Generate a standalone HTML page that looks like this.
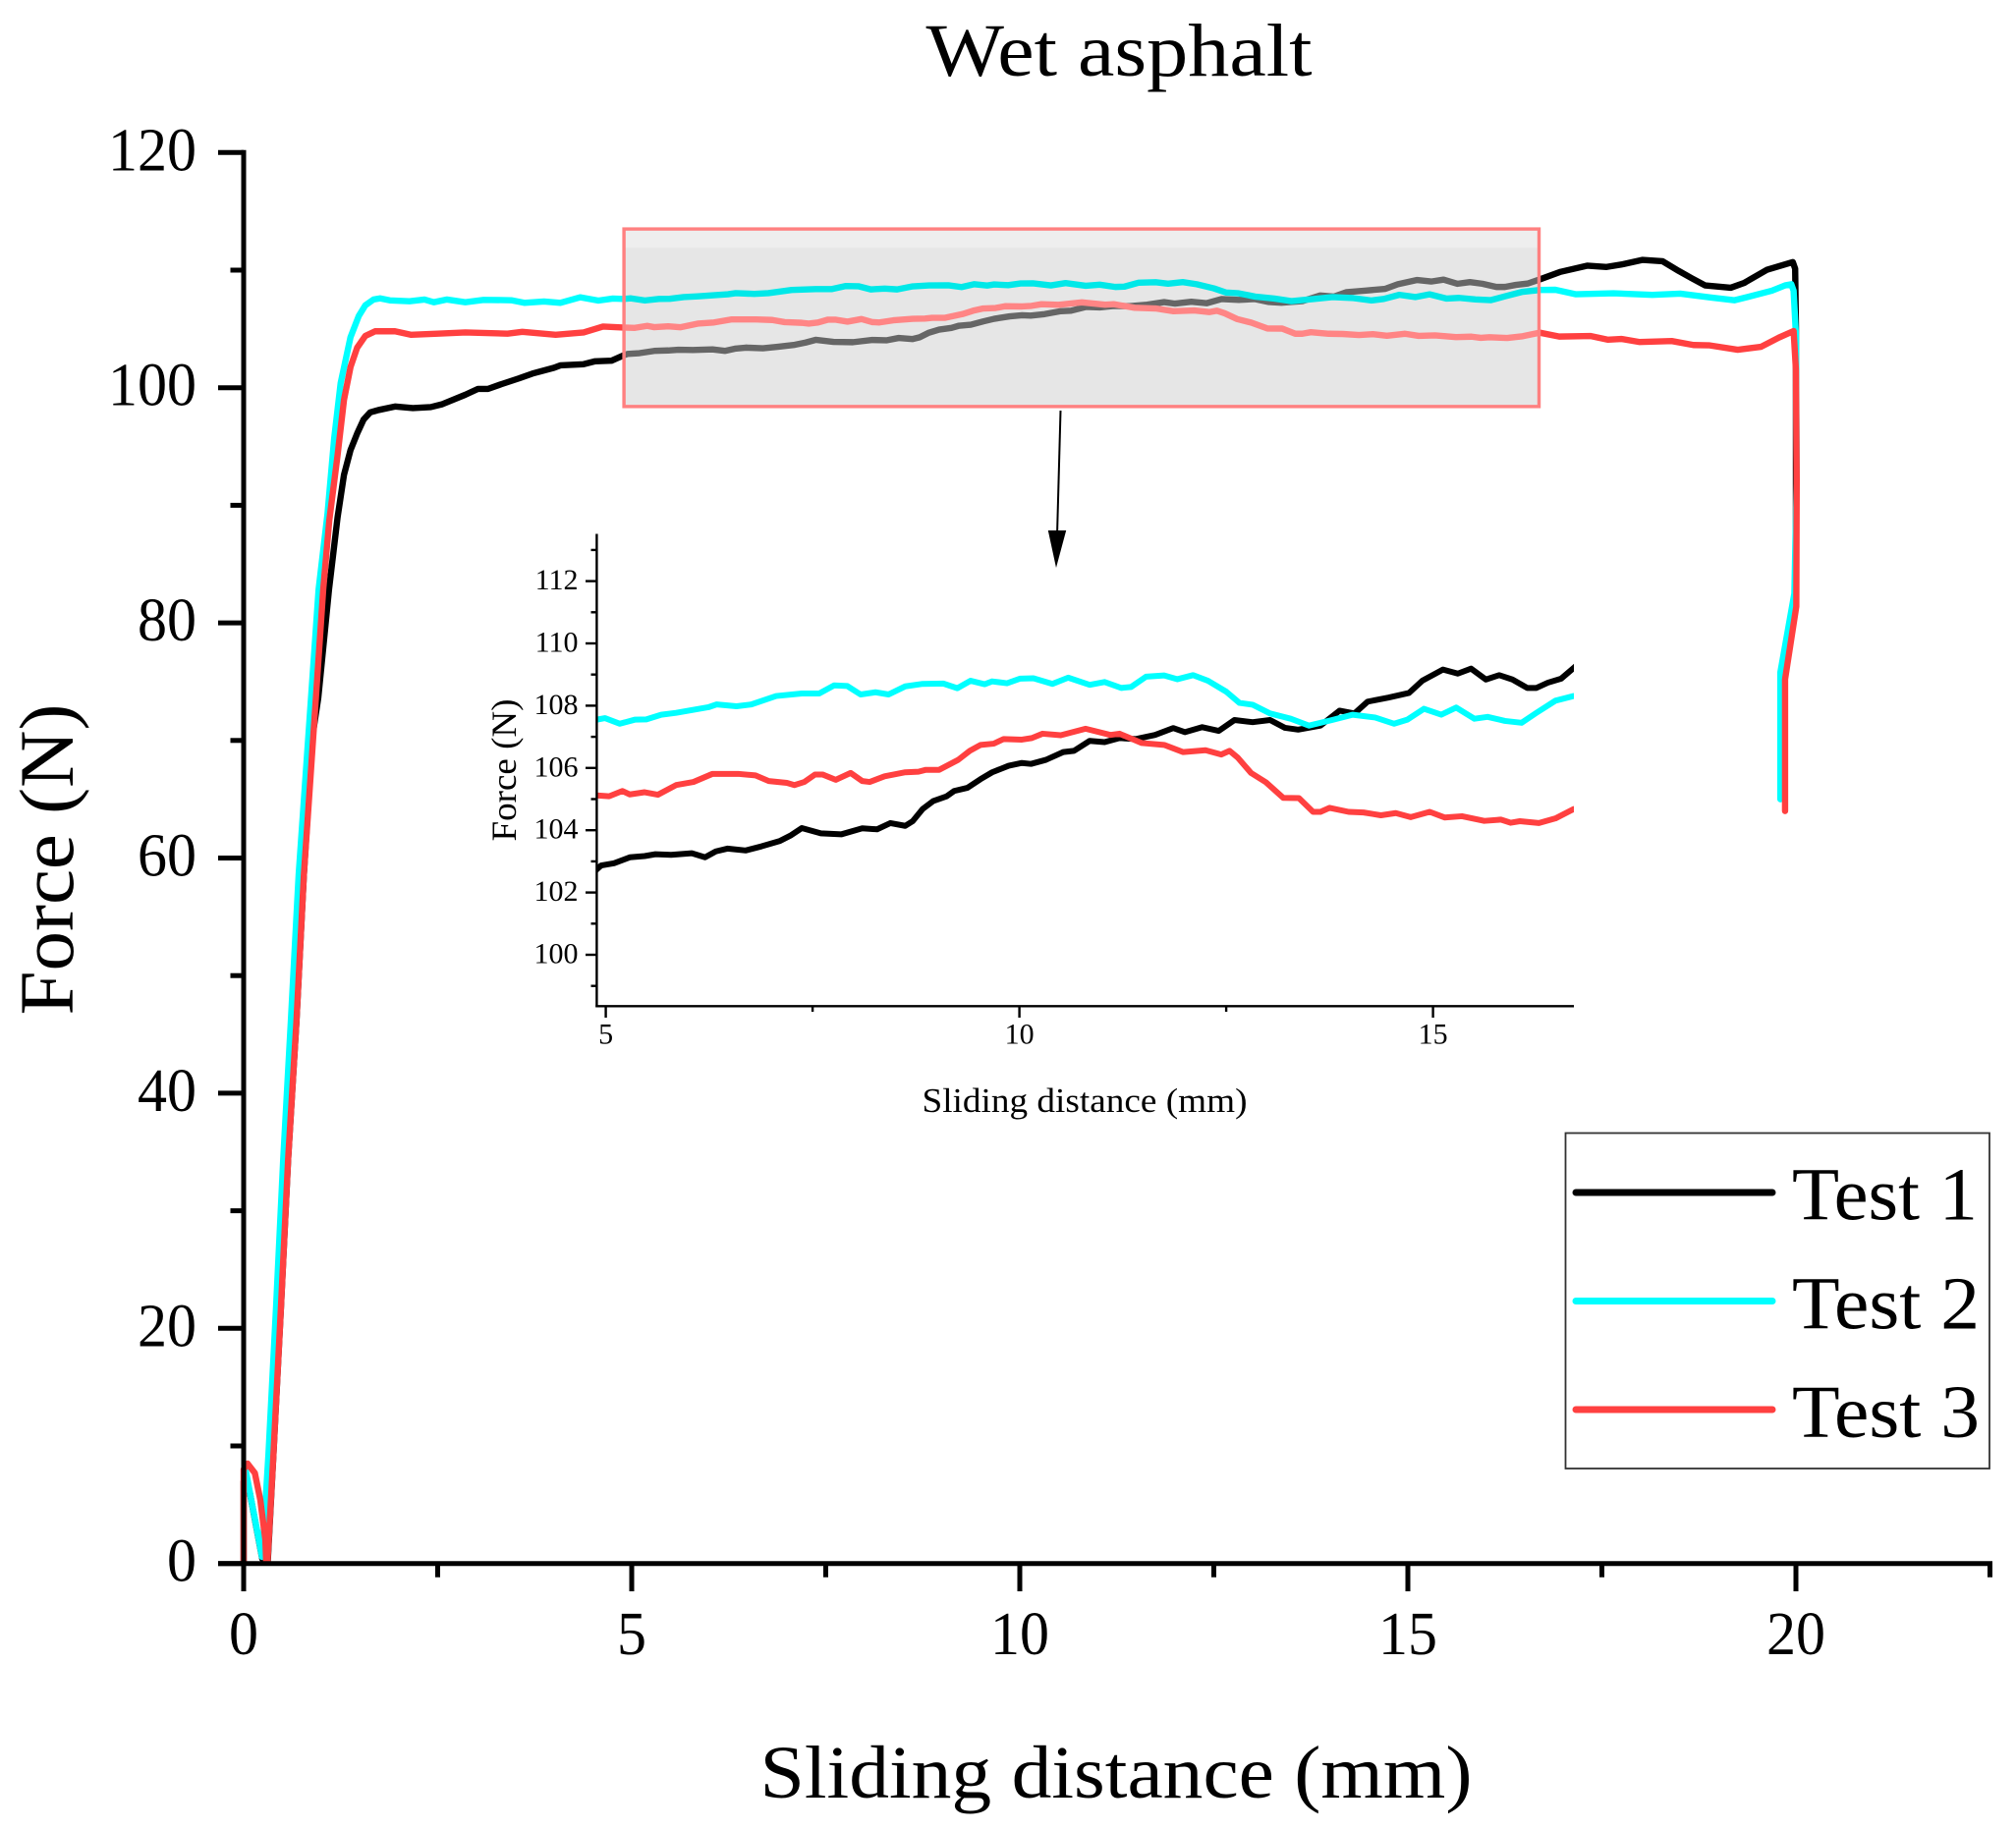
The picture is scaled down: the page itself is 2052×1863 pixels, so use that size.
<!DOCTYPE html>
<html lang="en">
<head>
<meta charset="utf-8">
<title>Wet asphalt</title>
<style>
html,body{margin:0;padding:0;background:#fff;}
svg{display:block;}
text{font-family:"Liberation Serif",serif;fill:#000;}
</style>
</head>
<body>
<svg id="chart" xmlns="http://www.w3.org/2000/svg" width="2052" height="1863" viewBox="0 0 2052 1863">
  <defs>
    <clipPath id="inset-clip"><rect id="inset-clip-rect" x="607" y="530" width="995" height="500"></rect></clipPath>
    <clipPath id="zoom-clip"><rect id="zoom-clip-rect" x="635" y="233" width="933" height="181"></rect></clipPath>
  </defs>
  <rect x="0" y="0" width="2052" height="1863" fill="#fff"></rect>
  <g id="main-lines"></g>
  <g id="zoom-region"></g>
  <g id="main-axes"></g>
  <text x="1139" y="77" font-size="76" text-anchor="middle" textLength="393" lengthAdjust="spacingAndGlyphs">Wet asphalt</text>
  <text x="1136" y="1830" font-size="76" text-anchor="middle" textLength="725" lengthAdjust="spacingAndGlyphs">Sliding distance (mm)</text>
  <text transform="translate(74 875) rotate(-90)" font-size="78" text-anchor="middle" textLength="317" lengthAdjust="spacingAndGlyphs">Force (N)</text>

  <g>
    <line x1="1079.5" y1="418" x2="1076" y2="545" stroke="#000" stroke-width="2"></line>
    <polygon points="1066.8,540 1085.2,540 1075,578" fill="#000"></polygon>
  </g>

  <g id="inset-lines" clip-path="url(#inset-clip)"></g>
  <g id="inset-axes"></g>
  <text x="1104" y="1132" font-size="35" text-anchor="middle" textLength="331" lengthAdjust="spacingAndGlyphs">Sliding distance (mm)</text>
  <text transform="translate(525 784) rotate(-90)" font-size="36" text-anchor="middle" textLength="145" lengthAdjust="spacingAndGlyphs">Force (N)</text>

  <g>
    <rect x="1593.5" y="1153.5" width="431.5" height="341.5" fill="#fff" stroke="#333" stroke-width="1.8"></rect>
    <line x1="1604" y1="1214" x2="1804" y2="1214" stroke="#000" stroke-width="7" stroke-linecap="round"></line>
    <line x1="1604" y1="1324.5" x2="1804" y2="1324.5" stroke="#00ffff" stroke-width="7" stroke-linecap="round"></line>
    <line x1="1604" y1="1435" x2="1804" y2="1435" stroke="#ff4040" stroke-width="7" stroke-linecap="round"></line>
    <text x="1824" y="1241.5" font-size="76" textLength="189" lengthAdjust="spacingAndGlyphs">Test 1</text>
    <text x="1824" y="1352.5" font-size="76" textLength="191" lengthAdjust="spacingAndGlyphs">Test 2</text>
    <text x="1824" y="1463" font-size="76" textLength="191" lengthAdjust="spacingAndGlyphs">Test 3</text>
  </g>
</svg>
<script>
// ---- chart data (sliding distance in mm, force in N) ----
const xTest1 = [0,0,0.08,0.24,0.31,0.384,0.481,0.573,0.68,0.776,0.886,0.962,1.016,1.10,1.21,1.293,1.377,1.462,1.546,1.63,1.737,1.95,2.18,2.41,2.56,2.856,3.02,3.15,3.32,3.55,3.72,4.0,4.08,4.38,4.53,4.74,4.89,4.945,5.10,5.29,5.47,5.60,5.79,6.04,6.20,6.33,6.47,6.69,6.88,7.10,7.24,7.37,7.60,7.85,8.10,8.28,8.44,8.62,8.71,8.83,8.96,9.12,9.21,9.37,9.53,9.67,9.87,10.03,10.14,10.32,10.53,10.66,10.85,11.03,11.21,11.41,11.64,11.86,12.0,12.21,12.41,12.6,12.82,13.03,13.21,13.37,13.64,13.87,14.05,14.21,14.46,14.71,14.87,15.12,15.3,15.46,15.64,15.8,15.96,16.14,16.25,16.39,16.55,16.7,16.97,17.31,17.56,17.77,18.02,18.28,18.49,18.66,18.83,19.16,19.33,19.63,19.96,19.99,20.0,20.0];
const yTest1 = [0,7,6,0.4,0.1,9.33,21.86,34.4,46.1,58.6,70.3,73.66,77.25,82.85,88.97,92.6,94.7,96.1,97.3,97.9,98.1,98.4,98.27,98.35,98.6,99.4,99.9,99.9,100.3,100.8,101.2,101.7,101.9,102.0,102.25,102.3,102.74,102.87,102.94,103.13,103.17,103.23,103.21,103.26,103.13,103.32,103.41,103.35,103.48,103.65,103.84,104.07,103.9,103.87,104.06,104.03,104.23,104.14,104.29,104.68,104.94,105.09,105.26,105.36,105.64,105.86,106.07,106.16,106.13,106.26,106.51,106.55,106.87,106.83,106.96,106.93,107.06,107.28,107.15,107.31,107.19,107.54,107.47,107.54,107.29,107.23,107.36,107.84,107.75,108.13,108.26,108.41,108.8,109.16,109.03,109.19,108.84,108.98,108.84,108.57,108.57,108.74,108.87,109.21,109.86,110.38,110.27,110.5,110.87,110.76,109.93,109.3,108.7,108.5,108.9,110.04,110.68,110.12,105.3,85];
const xTest2 = [0.03,0.237,0.279,0.32,0.418,0.51,0.608,0.709,0.848,0.966,1.08,1.166,1.25,1.377,1.483,1.567,1.673,1.758,1.884,2.137,2.33,2.45,2.62,2.856,3.09,3.447,3.616,3.87,4.08,4.335,4.57,4.757,4.89,4.99,5.17,5.35,5.49,5.67,5.85,6.24,6.34,6.58,6.76,7.06,7.37,7.58,7.76,7.92,8.08,8.26,8.42,8.62,8.83,9.08,9.25,9.41,9.58,9.67,9.85,10.01,10.17,10.4,10.59,10.85,11.03,11.23,11.35,11.53,11.75,11.91,12.1,12.28,12.5,12.66,12.82,13.03,13.28,13.5,13.78,14.03,14.3,14.53,14.69,14.89,15.1,15.28,15.5,15.66,15.87,16.07,16.25,16.48,16.7,16.9,17.16,17.65,18.15,18.51,18.91,19.21,19.37,19.69,19.86,19.94,19.97,20.0,20.01,19.98,19.8,19.8];
const yTest2 = [7.8,0.56,4.9,9.33,21.86,34.4,46.1,58.6,71.7,82.85,89.25,95.66,100.4,104.3,106.1,107.0,107.5,107.6,107.43,107.35,107.5,107.27,107.5,107.27,107.47,107.44,107.22,107.33,107.22,107.69,107.41,107.58,107.55,107.6,107.42,107.55,107.56,107.71,107.77,107.95,108.04,107.98,108.04,108.31,108.39,108.39,108.65,108.63,108.36,108.43,108.36,108.62,108.7,108.71,108.56,108.8,108.69,108.78,108.72,108.87,108.88,108.7,108.9,108.67,108.76,108.57,108.6,108.93,108.97,108.85,108.98,108.8,108.45,108.09,108.03,107.75,107.58,107.36,107.54,107.71,107.62,107.42,107.55,107.9,107.71,107.94,107.58,107.64,107.51,107.45,107.77,108.16,108.31,108.33,107.95,108.03,107.9,108.0,107.67,107.44,107.7,108.25,108.7,108.8,108.25,104.5,92.2,82.5,75.8,65];
const xTest3 = [0,0,0.05,0.144,0.215,0.28,0.29,0.307,0.384,0.481,0.573,0.68,0.776,0.911,1.025,1.103,1.21,1.293,1.377,1.462,1.567,1.694,1.95,2.16,2.5,2.856,3.4,3.59,4.02,4.38,4.63,4.89,5.04,5.2,5.29,5.47,5.63,5.85,6.06,6.29,6.6,6.81,6.97,7.19,7.28,7.4,7.53,7.62,7.78,7.96,8.1,8.19,8.37,8.62,8.78,8.87,9.03,9.26,9.4,9.53,9.69,9.81,10.03,10.15,10.28,10.5,10.8,11.1,11.21,11.48,11.75,11.98,12.25,12.44,12.54,12.64,12.8,12.98,13.19,13.38,13.55,13.64,13.75,13.98,14.16,14.37,14.55,14.73,14.96,15.14,15.35,15.62,15.82,15.94,16.05,16.28,16.48,16.7,16.95,17.35,17.58,17.75,17.98,18.4,18.68,18.89,19.25,19.55,19.78,19.97,20.0,20.01,20.005,19.86,19.86];
const yTest3 = [0,8,8.5,7.7,5.4,2,0.1,0.1,9.33,21.86,34.4,46.1,58.6,71.7,82.85,88.7,94.25,98.97,101.76,103.4,104.4,104.8,104.8,104.5,104.6,104.7,104.6,104.75,104.5,104.7,105.2,105.12,105.09,105.26,105.15,105.22,105.14,105.45,105.55,105.81,105.81,105.76,105.58,105.52,105.45,105.55,105.79,105.79,105.62,105.84,105.58,105.55,105.73,105.86,105.88,105.94,105.94,106.26,106.55,106.74,106.78,106.93,106.91,106.96,107.1,107.05,107.26,107.06,107.1,106.8,106.74,106.51,106.57,106.43,106.55,106.33,105.84,105.54,105.04,105.03,104.59,104.59,104.72,104.59,104.57,104.48,104.55,104.42,104.59,104.41,104.45,104.3,104.34,104.24,104.29,104.23,104.38,104.68,104.35,104.4,104.08,104.15,103.89,103.97,103.63,103.6,103.23,103.48,104.26,104.82,101.5,92.2,81.4,75.2,64];

const mainXTicks = [0,5,10,15,20];
const mainXMinorTicks = [2.5,7.5,12.5,17.5,22.5];
const mainYTicks = [0,20,40,60,80,100,120];
const mainYMinorTicks = [10,30,50,70,90,110];
const insetXTicks = [5,10,15];
const insetXMinorTicks = [7.5,12.5];
const insetYTicks = [100,102,104,106,108,110,112];
const insetYMinorTicks = [99,101,103,105,107,109,111,113];
const insetWindow = [4.5,17.2];
const zoomXRange = [4.9,16.69];
const zoomYRange = [98.4,113.5];
const zoomBandBottom = 111.9;
const seriesNames = ['test-1','test-2','test-3'];

// ---- axis functions ----
function mainX(v){return 248+v*79;}
function mainY(v){return 1591.7-v*11.97;}
function insetX(v){return 616.6+(v-5)*84.2;}
function insetY(v){return 972-(v-100)*31.7;}

const NS='http://www.w3.org/2000/svg';
const allSeries=[
  {xs:xTest1,ys:yTest1,color:'#000000',muted:'#666666'},
  {xs:xTest2,ys:yTest2,color:'#00ffff',muted:'#00e8e8'},
  {xs:xTest3,ys:yTest3,color:'#ff4040',muted:'#ff8585'}
];

function pathData(xs,ys,fx,fy,win){
  let d='';
  let started=false;
  for(let i=0;i<xs.length;i++){
    if(win && (xs[i]<win[0] || xs[i]>win[1])){continue;}
    d+=(started?'L':'M')+fx(xs[i]).toFixed(2)+' '+fy(ys[i]).toFixed(2);
    started=true;
  }
  return d;
}
function makeEl(tag,attrs,parent){
  const el=document.createElementNS(NS,tag);
  for(const k in attrs){el.setAttribute(k,attrs[k]);}
  parent.appendChild(el);
  return el;
}

// main series
const mainLines=document.getElementById('main-lines');
allSeries.forEach(function(s,i){
  const el=makeEl('path',{d:pathData(s.xs,s.ys,mainX,mainY),fill:'none',stroke:s.color,'stroke-width':6.4,'stroke-linejoin':'round','stroke-linecap':'round'},mainLines);
  
  
});

// zoom region (opaque grey panel, muted copies of the lines, outline)
const zoomRegion=document.getElementById('zoom-region');
const zx0=mainX(zoomXRange[0]), zx1=mainX(zoomXRange[1]), zy0=mainY(zoomYRange[1]), zy1=mainY(zoomYRange[0]);
const clipRect=document.getElementById('zoom-clip-rect');
clipRect.setAttribute('x',zx0);
clipRect.setAttribute('y',zy0);
clipRect.setAttribute('width',zx1-zx0);
clipRect.setAttribute('height',zy1-zy0);
const zoomFill=makeEl('rect',{x:zx0,y:zy0,width:zx1-zx0,height:zy1-zy0,fill:'#e6e6e6'},zoomRegion);


const zoomBand=makeEl('rect',{x:zx0,y:zy0,width:zx1-zx0,height:mainY(zoomBandBottom)-zy0,fill:'#eeeeee'},zoomRegion);


const zoomLines=makeEl('g',{'clip-path':'url(#zoom-clip)'},zoomRegion);


allSeries.forEach(function(s,i){
  const el=makeEl('path',{d:pathData(s.xs,s.ys,mainX,mainY,insetWindow),fill:'none',stroke:s.muted,'stroke-width':6.4,'stroke-linejoin':'round'},zoomLines);
  
  
});
const zoomBorder=makeEl('rect',{x:zx0,y:zy0,width:zx1-zx0,height:zy1-zy0,fill:'none',stroke:'#ff8080','stroke-width':3.4},zoomRegion);



// main axes
const mainAxes=document.getElementById('main-axes');
const mainSpineY=makeEl('line',{x1:248,x2:248,y1:mainY(120)-2.5,y2:1620,stroke:'#000','stroke-width':5},mainAxes);


const mainSpineX=makeEl('line',{x1:222,x2:mainX(22.5)+2.5,y1:1591.7,y2:1591.7,stroke:'#000','stroke-width':5},mainAxes);


mainYTicks.forEach(function(v){
  const t=makeEl('line',{x1:222,x2:248,y1:mainY(v),y2:mainY(v),stroke:'#000','stroke-width':5},mainAxes);
  
  
  const s=String(v);
  const l=makeEl('text',{x:200,y:mainY(v)+18,'font-size':62,'text-anchor':'end',textLength:s.length*30,lengthAdjust:'spacingAndGlyphs'},mainAxes);
  l.textContent=s;
  
  
});
mainYMinorTicks.forEach(function(v){
  const t=makeEl('line',{x1:234.5,x2:248,y1:mainY(v),y2:mainY(v),stroke:'#000','stroke-width':5},mainAxes);
  
  
});
mainXTicks.forEach(function(v){
  const t=makeEl('line',{x1:mainX(v),x2:mainX(v),y1:1591.7,y2:1620,stroke:'#000','stroke-width':5},mainAxes);
  
  
  const s=String(v);
  const l=makeEl('text',{x:mainX(v),y:1684,'font-size':62,'text-anchor':'middle',textLength:s.length*30,lengthAdjust:'spacingAndGlyphs'},mainAxes);
  l.textContent=s;
  
  
});
mainXMinorTicks.forEach(function(v){
  const t=makeEl('line',{x1:mainX(v),x2:mainX(v),y1:1591.7,y2:1605.7,stroke:'#000','stroke-width':5},mainAxes);
  
  
});

// inset series
const insetLines=document.getElementById('inset-lines');
allSeries.forEach(function(s,i){
  const el=makeEl('path',{d:pathData(s.xs,s.ys,insetX,insetY,insetWindow),fill:'none',stroke:s.color,'stroke-width':6,'stroke-linejoin':'round'},insetLines);
  
  
});

// inset axes
const insetAxes=document.getElementById('inset-axes');
const insetSpineY=makeEl('line',{x1:607.4,x2:607.4,y1:543.5,y2:1025.4,stroke:'#000','stroke-width':2.4},insetAxes);


const insetSpineX=makeEl('line',{x1:606.3,x2:1602,y1:1024.3,y2:1024.3,stroke:'#000','stroke-width':2.4},insetAxes);


insetYTicks.forEach(function(v){
  const t=makeEl('line',{x1:596,x2:607.4,y1:insetY(v),y2:insetY(v),stroke:'#000','stroke-width':2.4},insetAxes);
  
  
  const l=makeEl('text',{x:588.5,y:insetY(v)+8.5,'font-size':30,'text-anchor':'end'},insetAxes);
  l.textContent=String(v);
  
  
});
insetYMinorTicks.forEach(function(v){
  const t=makeEl('line',{x1:601.5,x2:607.4,y1:insetY(v),y2:insetY(v),stroke:'#000','stroke-width':2.4},insetAxes);
  
  
});
insetXTicks.forEach(function(v){
  const t=makeEl('line',{x1:insetX(v),x2:insetX(v),y1:1024.3,y2:1036,stroke:'#000','stroke-width':2.4},insetAxes);
  
  
  const l=makeEl('text',{x:insetX(v),y:1062.5,'font-size':30,'text-anchor':'middle'},insetAxes);
  l.textContent=String(v);
  
  
});
insetXMinorTicks.forEach(function(v){
  const t=makeEl('line',{x1:insetX(v),x2:insetX(v),y1:1024.3,y2:1030,stroke:'#000','stroke-width':2.4},insetAxes);
  
  
});
</script>
</body>
</html>
